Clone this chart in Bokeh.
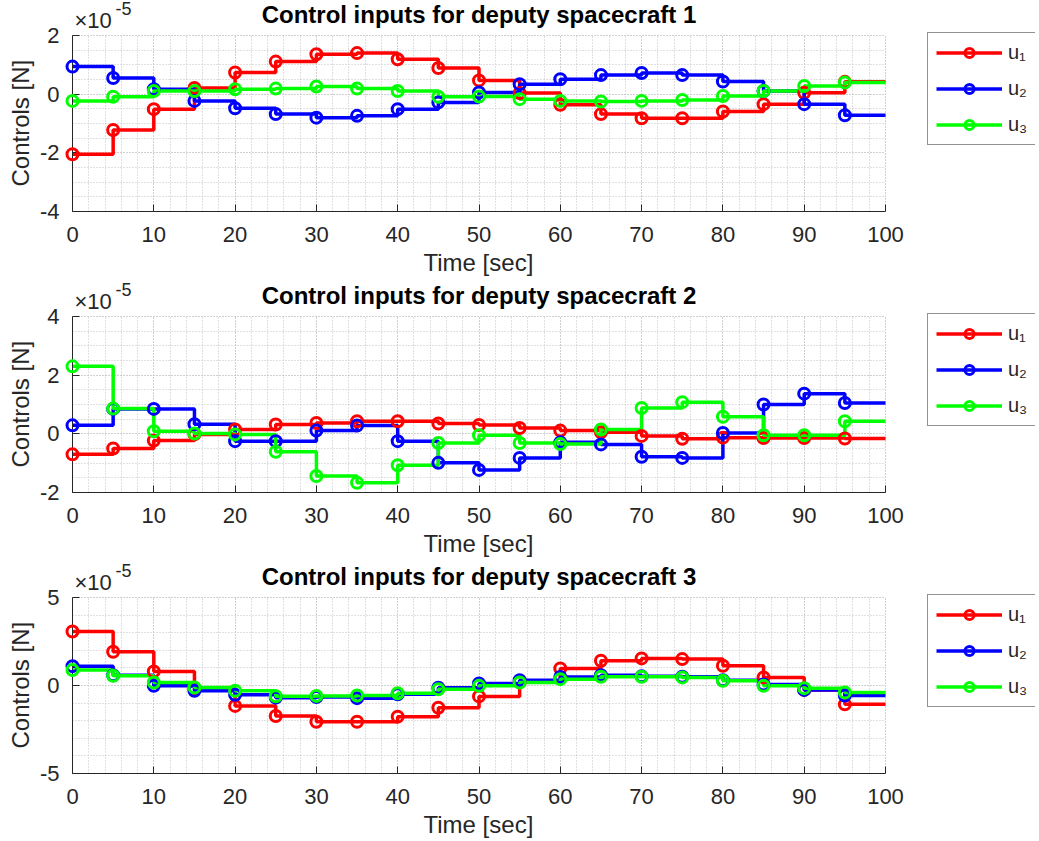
from bokeh.plotting import figure
from bokeh.layouts import column
from bokeh.models import FixedTicker, Range1d, Legend, LegendItem, Label, Title
from bokeh.embed import file_html
from bokeh.resources import INLINE

# Sample times [sec] (zero-order-hold control updates)
time_s = [0, 5, 10, 15, 20, 25, 30, 35, 40, 45, 50, 55, 60, 65, 70, 75, 80, 85, 90, 95]
t_end = 100

# Control inputs, in units of 1e-5 N
sc1_u1 = [-2.05, -1.22, -0.51, 0.21, 0.74, 1.11, 1.36, 1.40, 1.19, 0.89,
          0.47, 0.04, -0.36, -0.68, -0.82, -0.82, -0.59, -0.34, 0.05, 0.42]
sc1_u2 = [0.94, 0.55, 0.17, -0.23, -0.48, -0.68, -0.80, -0.74, -0.51, -0.28,
          0.06, 0.34, 0.51, 0.65, 0.72, 0.65, 0.43, 0.11, -0.34, -0.72]
sc1_u3 = [-0.23, -0.09, 0.11, 0.11, 0.17, 0.19, 0.26, 0.19, 0.11, -0.09,
          -0.08, -0.17, -0.23, -0.25, -0.23, -0.20, -0.06, 0.11, 0.28, 0.40]

sc2_u1 = [-0.70, -0.50, -0.23, -0.02, 0.15, 0.32, 0.37, 0.43, 0.43, 0.35,
          0.30, 0.20, 0.11, 0.05, -0.07, -0.17, -0.13, -0.14, -0.14, -0.16]
sc2_u2 = [0.29, 0.85, 0.85, 0.33, -0.25, -0.25, 0.11, 0.28, -0.25, -0.99,
          -1.23, -0.82, -0.29, -0.36, -0.78, -0.82, 0.03, 1.00, 1.37, 1.05]
sc2_u3 = [2.30, 0.86, 0.09, 0.01, -0.02, -0.61, -1.44, -1.67, -1.07, -0.31,
          -0.05, -0.31, -0.35, 0.15, 0.88, 1.08, 0.58, -0.05, -0.05, 0.43]

sc3_u1 = [3.07, 1.92, 0.80, -0.15, -1.16, -1.73, -2.06, -2.06, -1.77, -1.26,
          -0.62, 0.20, 0.97, 1.41, 1.54, 1.50, 1.12, 0.46, -0.25, -1.07]
sc3_u2 = [1.10, 0.58, -0.02, -0.30, -0.53, -0.69, -0.65, -0.72, -0.50, -0.13,
          0.12, 0.30, 0.48, 0.58, 0.52, 0.50, 0.30, 0.05, -0.25, -0.57]
sc3_u3 = [0.88, 0.55, 0.17, -0.11, -0.30, -0.61, -0.59, -0.57, -0.44, -0.21,
          -0.02, 0.17, 0.36, 0.50, 0.50, 0.46, 0.27, -0.02, -0.15, -0.40]

titles = ["Control inputs for deputy spacecraft 1",
          "Control inputs for deputy spacecraft 2",
          "Control inputs for deputy spacecraft 3"]
y_limits = [(-4, 2), (-2, 4), (-5, 5)]
y_major = [[-4, -2, 0, 2], [-2, 0, 2, 4], [-5, 0, 5]]
y_minor_step = [0.5, 0.5, 1.0]
x_major = list(range(0, 101, 10))
x_minor = list(range(0, 101, 2))
labels = ["u\u2081", "u\u2082", "u\u2083"]
colors = ["#ff0000", "#0000ff", "#00ff00"]
x_label = "Time [sec]"
y_label = "Controls [N]"

series = [[sc1_u1, sc1_u2, sc1_u3], [sc2_u1, sc2_u2, sc2_u3], [sc3_u1, sc3_u2, sc3_u3]]

FONT = "Liberation Sans"
AX = "#262626"
GRID = "#c0c0c0"

# pixel geometry of one panel
AXES_W = 813      # width of the data area (0..100 s)
AXES_H = 176      # height of the data area
HEAD = 35         # room above the data area for title / exponent
SIDE = 150        # room right of the data area for the legend
LEFT = 72
BOTTOM = 70


def make_panel(idx, bottom):
    lo, hi = y_limits[idx]
    dy = (hi - lo) / AXES_H          # data units per pixel, vertical
    dx = t_end / AXES_W              # data units per pixel, horizontal
    # the frame also covers the header and legend strip, so that the
    # title, exponent and legend can live inside it
    p = figure(frame_width=AXES_W + SIDE, frame_height=AXES_H + HEAD,
               x_range=Range1d(0, t_end + SIDE * dx),
               y_range=Range1d(lo, hi + HEAD * dy),
               output_backend="svg", toolbar_location=None,
               min_border_left=LEFT, min_border_right=1039 - LEFT - AXES_W - SIDE,
               min_border_top=0, min_border_bottom=bottom)
    p.outline_line_color = None
    p.background_fill_color = "white"
    p.border_fill_color = "white"

    n_minor = int(round((hi - lo) / y_minor_step[idx]))
    y_min = [lo + k * y_minor_step[idx] for k in range(n_minor + 1)]
    p.xaxis.ticker = FixedTicker(ticks=x_major, minor_ticks=x_minor)
    p.yaxis.ticker = FixedTicker(ticks=y_major[idx], minor_ticks=y_min)
    p.yaxis.major_label_overrides = {v: str(v) for v in y_major[idx]}
    p.xaxis.bounds = (0, t_end)
    p.yaxis.bounds = (lo, hi)

    for ax in (p.xaxis[0], p.yaxis[0]):
        ax.axis_line_color = AX
        ax.axis_line_width = 1
        ax.major_tick_line_color = AX
        ax.major_tick_in = 7
        ax.major_tick_out = 0
        ax.minor_tick_line_color = None
        ax.major_label_text_font = FONT
        ax.major_label_text_font_size = "22px"
        ax.major_label_text_color = AX
    p.xaxis.major_label_standoff = 11
    p.yaxis.major_label_standoff = 9

    # axis titles, centred on the data area rather than the whole frame
    p.add_layout(Title(text=x_label, align="left", offset=351, standoff=4,
                       text_font=FONT, text_font_size="24px",
                       text_font_style="normal", text_color=AX), "below")
    p.add_layout(Title(text=y_label, align="left", offset=25, standoff=6,
                       text_font=FONT, text_font_size="24px",
                       text_font_style="normal", text_color=AX), "left")

    gx, gy = p.xgrid[0], p.ygrid[0]
    for g in (gx, gy):
        g.grid_line_color = GRID
        g.grid_line_dash = "1 2"
        g.grid_line_width = 1
        g.minor_grid_line_color = GRID
        g.minor_grid_line_dash = "1 2"
        g.minor_grid_line_width = 1
    gx.cross_bounds = (lo, hi)
    gy.cross_bounds = (0, t_end)

    items = []
    for vals, col, lab in zip(series[idx], colors, labels):
        # hold the final value until the end of the horizon
        xs = time_s + [t_end]
        ys = vals + [vals[-1]]
        r_line = p.step(xs, ys, mode="after", line_color=col, line_width=3.5)
        r_mark = p.scatter(time_s, vals, marker="circle", size=11,
                           line_color=col, line_width=3, fill_color=None)
        r_mark.level = "overlay"
        items.append(LegendItem(label=lab, renderers=[r_line, r_mark]))

    legend = Legend(items=items, location=(855, 66))
    legend.border_line_color = AX
    legend.border_line_width = 1
    legend.background_fill_color = "white"
    legend.background_fill_alpha = 1
    legend.label_text_font = FONT
    legend.label_text_font_size = "20px"
    legend.label_text_color = AX
    legend.glyph_width = 66
    legend.glyph_height = 23
    legend.label_standoff = 6
    legend.spacing = 13
    legend.padding = 8
    legend.margin = 0
    p.add_layout(legend, "center")

    # panel title and axis exponent in the header strip
    p.add_layout(Label(x=t_end / 2, y=hi + 21 * dy, text=titles[idx],
                       text_font=FONT, text_font_size="24px", text_font_style="bold",
                       text_color="black", text_baseline="alphabetic",
                       text_align="center"))
    p.add_layout(Label(x=2 * dx, y=hi + 15 * dy, text="\u00d710",
                       text_font=FONT, text_font_size="22px", text_color=AX,
                       text_baseline="alphabetic", text_align="left"))
    p.add_layout(Label(x=43 * dx, y=hi + 27 * dy, text="-5",
                       text_font=FONT, text_font_size="18px", text_color=AX,
                       text_baseline="alphabetic", text_align="left"))
    return p


panels = [make_panel(0, BOTTOM), make_panel(1, BOTTOM), make_panel(2, BOTTOM - 2)]
layout = column(*panels, spacing=0)

open("out.html", "w").write(file_html(layout, INLINE))
